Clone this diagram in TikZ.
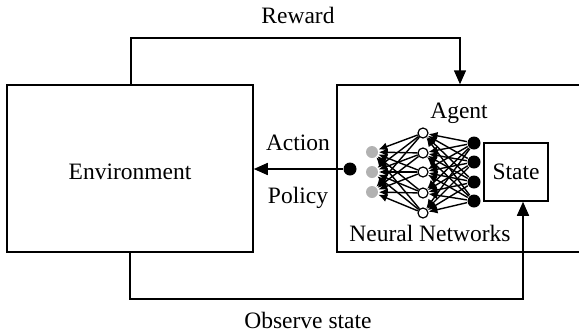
\documentclass[tikz,border=0pt]{standalone}
\usepackage{fontspec}
\setmainfont{Liberation Serif}
\usetikzlibrary{arrows.meta}

\begin{document}
\begin{tikzpicture}[x=1pt, y=-1pt, line width=1.5pt,
		font=\fontsize{23.5}{28}\selectfont,
		arr/.style={-{Triangle[length=14pt,width=12pt]}},
		netarr/.style={line width=1.4pt, -{Latex[length=9pt,width=8pt]}},
		indot/.style={circle, fill=black!30, minimum size=12pt, inner sep=0pt},
		hid/.style={circle, draw, fill=white, line width=1.2pt, minimum size=10pt, inner sep=0pt},
		outdot/.style={circle, fill=black, minimum size=13pt, inner sep=0pt}]
		\useasboundingbox (0,0) rectangle (579,335);
		
		% boxes
		\node[draw, minimum width=246pt, minimum height=167pt, inner sep=0pt] (env) at (130,168.5) {};
		\node at (130,172) {Environment};
		\node[draw, minimum width=248pt, minimum height=167pt, inner sep=0pt] (agent) at (461,168.5) {};
		\node[draw, minimum width=64pt, minimum height=58pt, inner sep=0pt] (state) at (516,172) {State};
		
		% neural network
		\foreach \i/\y in {1/152,2/172,3/192}
			\node[indot] (i\i) at (372,\y) {};
		\foreach \i/\y in {1/133,2/153,3/172,4/193,5/213}
			\node[hid] (h\i) at (423,\y) {};
		\foreach \i/\y in {1/143,2/162,3/182,4/201}
			\node[outdot] (o\i) at (474,\y) {};
		\foreach \h in {1,...,5} {
			\foreach \i in {1,...,3}
				\draw[netarr] (h\h) -- (i\i);
			\foreach \o in {1,...,4}
				\draw[netarr] (o\o) -- (h\h);
		}
		
		% action
		\node[outdot] (act) at (350,169) {};
		\draw[arr] (act) -- (act -| env.east);
		
		% reward and observation loops
		\coordinate (rwL) at (131,38);
		\coordinate (rwR) at (460,38);
		\draw[arr] (env.north -| rwL) -- (rwL) -- (rwR) -- (agent.north -| rwR);
		\coordinate (obsL) at (130,299);
		\coordinate (obsR) at (523,299);
		\draw[arr] (env.south -| obsL) -- (obsL) -- (obsR) -- (state.south -| obsR);
		
		% labels
		\node (reward) at (298,15) {Reward};
		\node (observe) at (308,320) {Observe state};
		\node (action) at (298,143) {Action};
		\node (policy) at (298,198) {Policy};
		\node (agentlbl) at (459,113) {Agent};
		\node (nnlbl) at (430,233) {Neural Networks};
	\end{tikzpicture}
\end{document}
